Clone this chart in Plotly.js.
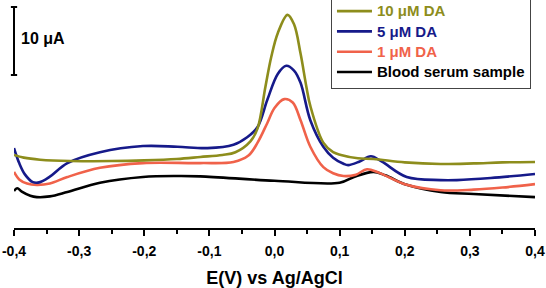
<!DOCTYPE html>
<html>
<head>
<meta charset="utf-8">
<script src="https://cdn.plot.ly/plotly-3.0.1.min.js"></script>
<style>html,body{margin:0;padding:0;background:#fff;}#chart{width:546px;height:288px;}</style>
</head>
<body>
<div id="chart"></div>
<script>
// Potential (V vs Ag/AgCl) and current (μA, arbitrary offset)
const E_10 = [-0.4,-0.385,-0.36,-0.314,-0.25,-0.2,-0.15,-0.114,-0.08,-0.06,-0.037,-0.026,-0.014,-0.005,0.005,0.02,0.03,0.04,0.049,0.055,0.075,0.09,0.102,0.128,0.152,0.2,0.255,0.306,0.35,0.4];
const I_10 = [10.6,10.2,9.9,9.7,9.7,9.8,10.0,10.3,10.6,11.0,12.6,14.5,20.6,25.0,28.5,31.2,29.8,25.5,20.6,17.8,12.4,11.0,10.6,10.1,10.0,9.5,9.26,9.35,9.5,9.56];

const E_5 = [-0.4,-0.392,-0.383,-0.371,-0.36,-0.345,-0.318,-0.268,-0.202,-0.149,-0.103,-0.063,-0.042,-0.026,-0.011,0.005,0.018,0.03,0.04,0.055,0.075,0.09,0.106,0.113,0.13,0.148,0.165,0.203,0.255,0.28,0.332,0.4];
const I_5 = [11.6,9.4,7.7,6.6,6.6,7.4,9.4,11.0,11.9,11.8,11.6,12.1,13.2,14.7,18.7,22.5,23.7,23.0,21.2,15.7,11.8,10.2,9.3,9.1,9.6,10.4,9.6,7.35,6.9,6.9,7.2,7.8];

const E_1 = [-0.4,-0.392,-0.38,-0.365,-0.345,-0.318,-0.268,-0.202,-0.114,-0.063,-0.04,-0.026,-0.011,0.0,0.015,0.028,0.04,0.055,0.075,0.09,0.106,0.125,0.142,0.16,0.203,0.255,0.306,0.35,0.4];
const I_1 = [8.1,7.0,6.4,6.2,6.4,7.35,8.7,9.4,9.4,9.56,10.5,12.4,15.3,17.5,18.8,18.3,15.7,11.8,8.8,7.9,7.5,7.7,8.5,8.0,6.2,5.4,5.5,5.8,6.3];

const E_s = [-0.4,-0.395,-0.388,-0.375,-0.365,-0.345,-0.318,-0.268,-0.202,-0.149,-0.114,-0.0,0.1,0.122,0.152,0.17,0.203,0.255,0.306,0.4];
const I_s = [5.3,5.7,5.2,4.6,4.4,4.5,5.15,6.5,7.35,7.5,7.45,6.8,6.5,7.35,8.1,7.6,6.2,5.15,4.85,4.4];

const seriesNames = ['10 μM DA','5 μM DA','1 μM DA','Blood serum sample'];
const seriesColors = ['#8d8d1c','#161a8a','#f0624a','#000000'];

const tickVals = [-0.4,-0.3,-0.2,-0.1,0.0,0.1,0.2,0.3,0.4];
const tickText = ['-0,4','-0,3','-0,2','-0,1','0,0','0,1','0,2','0,3','0,4'];

const scaleBarValue = 10; // μA
const scaleBarLabel = '10 μA';

const FONT = 'Liberation Sans, Arial, Helvetica, sans-serif';

const xs = [E_10, E_5, E_1, E_s];
const ys = [I_10, I_5, I_1, I_s];
const traces = xs.map((x, i) => ({
  x: x, y: ys[i], type: 'scatter', mode: 'lines',
  line: {color: seriesColors[i], width: 2.6, shape: 'spline', smoothing: 1},
  name: '<span style="color:' + seriesColors[i] + ';font-size:15px">' + seriesNames[i] + '</span>'
}));
// draw black first (bottom)
const data = [traces[3], traces[2], traces[1], traces[0]];

const barTop = 32.35;
const layout = {
  width: 546, height: 288,
  margin: {l: 14, r: 11, t: 0, b: 60, autoexpand: false},
  paper_bgcolor: '#fff', plot_bgcolor: '#fff',
  showlegend: true,
  legend: {
    x: 0.6084, y: 1.022, xanchor: 'left', yanchor: 'top',
    bgcolor: '#fff', bordercolor: '#444', borderwidth: 1,
    traceorder: 'reversed',
    font: {family: FONT, size: 13.3, weight: 'bold', color: '#000'},
    itemwidth: 35
  },
  xaxis: {
    range: [-0.4, 0.4], showgrid: false, zeroline: false, automargin: false,
    showline: true, linecolor: '#000', linewidth: 2,
    ticks: 'outside', ticklen: 6, tickwidth: 2, tickcolor: '#000',
    tickmode: 'array', tickvals: tickVals, ticktext: tickText,
    ticklabelstandoff: 3,
    tickfont: {family: FONT, size: 14, weight: 'bold', color: '#000'},
    minor: {dtick: 0.05, tick0: -0.4, ticks: 'outside', ticklen: 4, tickwidth: 2, tickcolor: '#000', showgrid: false},
    title: {text: 'E(V) vs Ag/AgCl', font: {family: FONT, size: 18, weight: 'bold', color: '#000'}, standoff: 15}
  },
  yaxis: {range: [-0.147, 33.38], visible: false, fixedrange: true},
  shapes: [
    {type: 'line', xref: 'paper', yref: 'y', x0: 0, x1: 0, y0: barTop - scaleBarValue, y1: barTop, line: {color: '#000', width: 2}},
    {type: 'line', xref: 'paper', yref: 'y', x0: -0.006, x1: 0.006, y0: barTop, y1: barTop, line: {color: '#000', width: 2}},
    {type: 'line', xref: 'paper', yref: 'y', x0: -0.006, x1: 0.006, y0: barTop - scaleBarValue, y1: barTop - scaleBarValue, line: {color: '#000', width: 2}}
  ],
  annotations: [
    {xref: 'paper', yref: 'y', x: 0.01, y: barTop - scaleBarValue / 2 + 0.3, xanchor: 'left', yanchor: 'middle',
     text: scaleBarLabel, showarrow: false, font: {family: FONT, size: 16, weight: 'bold', color: '#000'}}
  ]
};

Plotly.newPlot('chart', data, layout, {staticPlot: true, displayModeBar: false});
</script>
</body>
</html>
